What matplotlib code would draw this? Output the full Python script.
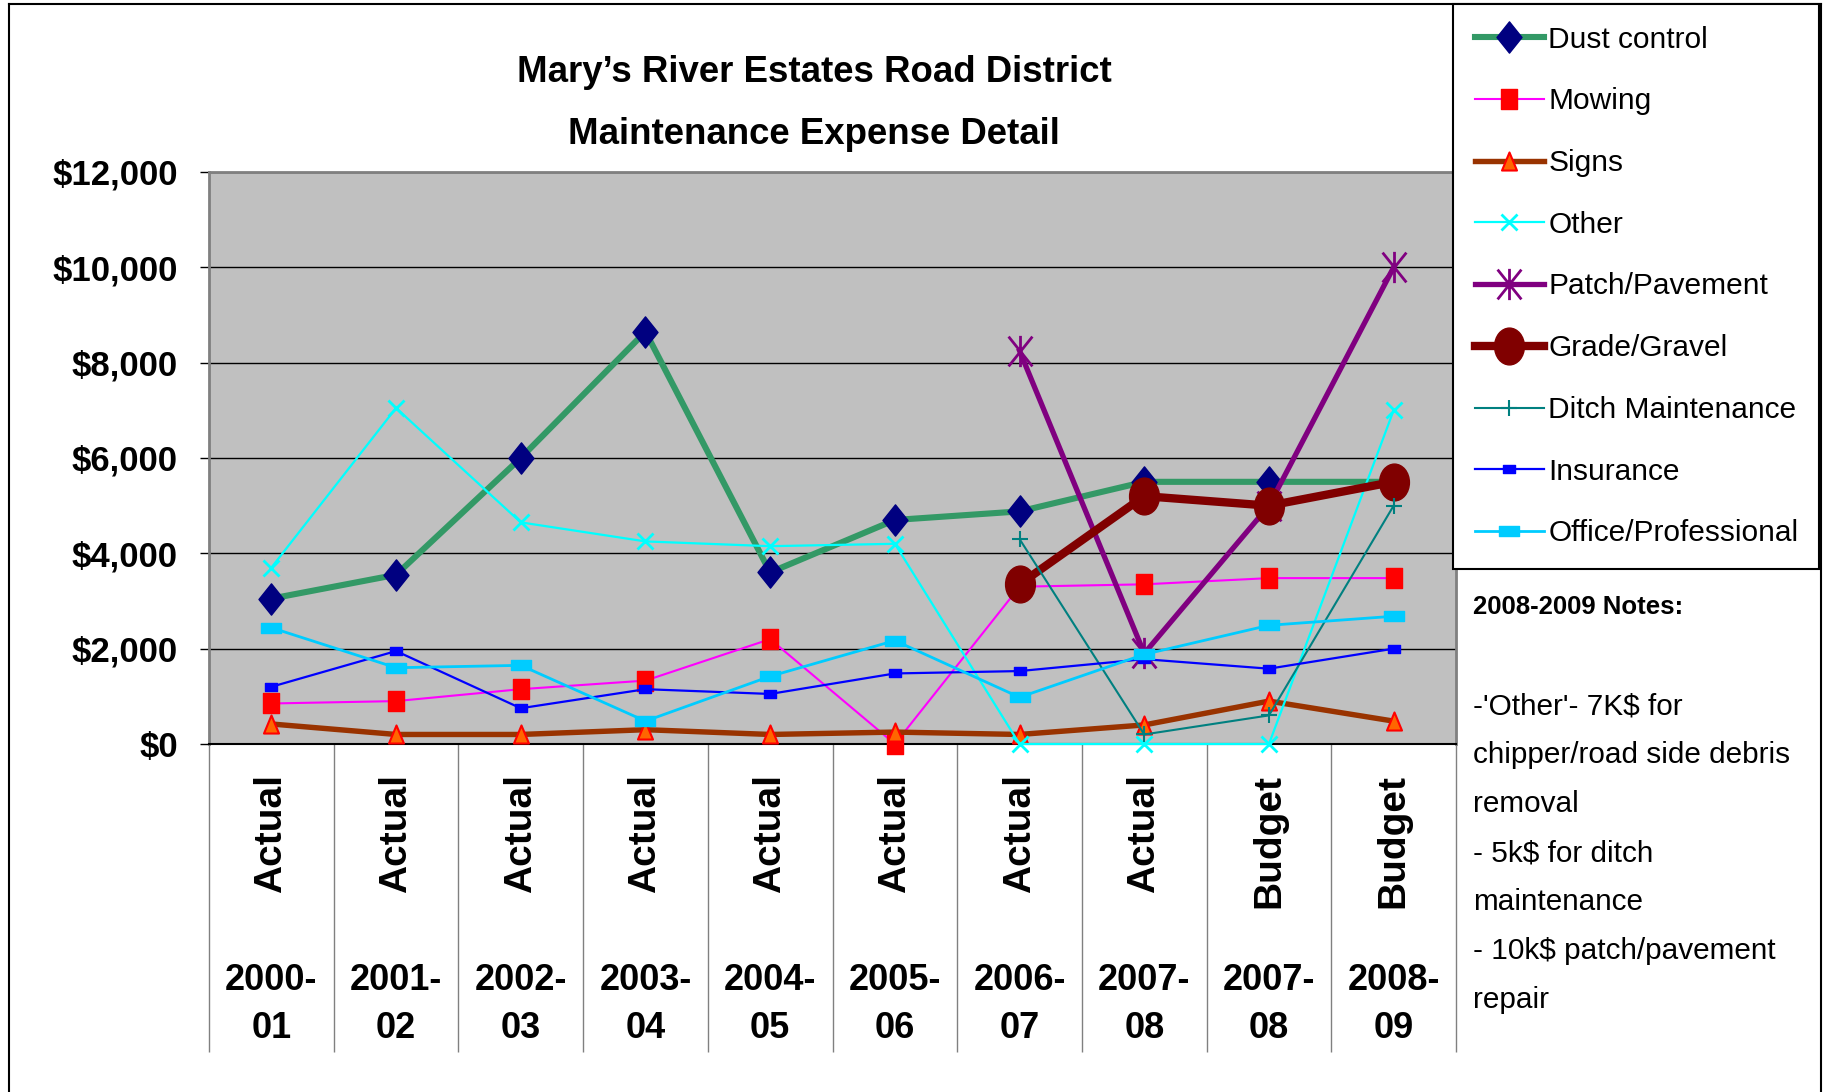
import numpy as np
import matplotlib
matplotlib.use("Agg")
import matplotlib.pyplot as plt
from matplotlib.path import Path
from matplotlib.transforms import Affine2D
from matplotlib.ticker import FuncFormatter

plt.rcParams['font.family'] = ['Liberation Sans', 'DejaVu Sans']

# --- data ---
kinds = ["Actual"] * 8 + ["Budget"] * 2
years = ["2000-\n01", "2001-\n02", "2002-\n03", "2003-\n04", "2004-\n05",
         "2005-\n06", "2006-\n07", "2007-\n08", "2007-\n08", "2008-\n09"]
nan = np.nan

dust_control = [3050, 3550, 6000, 8650, 3600, 4700, 4880, 5500, 5500, 5500]
mowing = [850, 900, 1150, 1330, 2200, 0, 3300, 3350, 3480, 3480]
signs = [420, 200, 200, 300, 200, 250, 200, 400, 900, 480]
other = [3700, 7050, 4650, 4250, 4150, 4200, 0, 0, 0, 7000]
patch_pavement = [nan, nan, nan, nan, nan, nan, 8250, 1900, 5000, 10000]
grade_gravel = [nan, nan, nan, nan, nan, nan, 3350, 5200, 5000, 5500]
ditch = [nan, nan, nan, nan, nan, nan, 4300, 200, 600, 5000]
insurance = [1200, 1950, 750, 1150, 1050, 1480, 1530, 1780, 1580, 2000]
office = [2440, 1600, 1650, 480, 1420, 2170, 980, 1880, 2490, 2680]

# --- marker shapes (Excel-like) ---
def rect(w, h):
    return Path([(-w, -h), (w, -h), (w, h), (-w, h), (-w, -h)], closed=True)

diamond = Path([(0, 1), (0.8, 0), (0, -1), (-0.8, 0), (0, 1)], closed=True)
triangle = Path([(0, 1), (0.83, -1), (-0.83, -1), (0, 1)], closed=True)
ellipse = Path.unit_circle().transformed(Affine2D().scale(0.81, 1))
star = Path([(-0.8, -1), (0.8, 1), (-0.8, 1), (0.8, -1), (0, -1.05), (0, 1.05)],
            [Path.MOVETO, Path.LINETO, Path.MOVETO, Path.LINETO, Path.MOVETO, Path.LINETO])

series = [
    ("Dust control", dust_control, dict(color="#339966", lw=4.4, marker=diamond, ms=22.5,
                                        mfc="#000080", mec="#000080", mew=1)),
    ("Mowing", mowing, dict(color="#FF00FF", lw=1.5, marker=rect(0.83, 1), ms=14.4,
                            mfc="#FF0000", mec="#FF0000", mew=1)),
    ("Signs", signs, dict(color="#993300", lw=3.9, marker=triangle, ms=13,
                          mfc="#FF6600", mec="#FF0000", mew=1.5)),
    ("Other", other, dict(color="#00FFFF", lw=1.6, marker="x", ms=11.5,
                          mec="#00FFFF", mew=2)),
    ("Patch/Pavement", patch_pavement, dict(color="#800080", lw=3.8, marker=star, ms=22.5,
                                            mfc="none", mec="#800080", mew=2)),
    ("Grade/Gravel", grade_gravel, dict(color="#800000", lw=6.0, marker=ellipse, ms=26.5,
                                        mfc="#800000", mec="#800000", mew=1)),
    ("Ditch Maintenance", ditch, dict(color="#008080", lw=1.5, marker="+", ms=11.5,
                                      mec="#008080", mew=1.5)),
    ("Insurance", insurance, dict(color="#0000FF", lw=1.6, marker=rect(1, 0.75), ms=8.2,
                                  mfc="#0000FF", mec="#0000FF", mew=1)),
    ("Office/Professional", office, dict(color="#00CCFF", lw=2.0, marker=rect(1, 0.53), ms=13.7,
                                         mfc="#00CCFF", mec="#00CCFF", mew=1)),
]

W, H = 1823, 1092
fig = plt.figure(figsize=(W / 100, H / 100), dpi=100)
ax = fig.add_axes([209 / W, 348 / H, (1456 - 209) / W, (744 - 172) / H])
ax.set_facecolor("#C0C0C0")

x = np.arange(len(years))
for name, vals, st in series:
    ax.plot(x, vals, label=name, clip_on=False, zorder=3, **st)

ax.set_xlim(-0.5, len(years) - 0.5)
ax.set_ylim(0, 12000)
ax.set_yticks(np.arange(0, 12001, 2000))
ax.yaxis.set_major_formatter(FuncFormatter(lambda v, p: "${:,.0f}".format(v)))
ax.grid(axis="y", color="black", lw=1)
ax.set_axisbelow(True)
ax.tick_params(axis="y", direction="out", length=6.5, width=1, pad=16)
for lab in ax.get_yticklabels():
    lab.set_fontsize(25)
    lab.set_fontweight("bold")

# category axis: separators + two-level labels
ax.set_xticks(x)
ax.tick_params(axis="x", which="major", length=0, labelbottom=False)
ax.set_xticks(np.arange(-0.5, len(years)), minor=True)
ax.tick_params(axis="x", which="minor", length=222, width=1, color="#808080", direction="out")

for sp in ["top", "left", "right"]:
    ax.spines[sp].set_color("#808080")
    ax.spines[sp].set_linewidth(2)
ax.spines["bottom"].set_color("black")
ax.spines["bottom"].set_linewidth(1.5)

tr = ax.get_xaxis_transform()
for i in range(len(years)):
    ax.text(x[i], -0.052, kinds[i], transform=tr, rotation=90, ha="center", va="top",
            fontsize=28, fontweight="bold")
    ax.text(x[i], -0.455, years[i], transform=tr, ha="center", va="center",
            fontsize=26, fontweight="bold", linespacing=1.49)

# title
fig.text(814 / W, 1 - 73 / H, "Mary\u2019s River Estates Road District",
         ha="center", va="center", fontsize=26.4, fontweight="bold")
fig.text(814 / W, 1 - 134 / H, "Maintenance Expense Detail",
         ha="center", va="center", fontsize=26.4, fontweight="bold")

# legend
leg = fig.legend(loc="upper left", bbox_to_anchor=(1453 / W, 1 - 572 / H, 366 / W, 568 / H),
                 mode="expand", fontsize=21.5, frameon=True, fancybox=False,
                 edgecolor="black", framealpha=1, borderpad=0.72, labelspacing=1.13,
                 handlelength=2.34, handletextpad=0.13, borderaxespad=0)
leg.get_frame().set_linewidth(1.5)

# notes
fig.text(1473 / W, 1 - 607 / H, "2008-2009 Notes:", ha="left", va="center",
         fontsize=18.5, fontweight="bold")
notes = ("-'Other'- 7K$ for\nchipper/road side debris\nremoval\n- 5k$ for ditch\n"
         "maintenance\n- 10k$ patch/pavement\nrepair")
fig.text(1473 / W, 1 - 853 / H, notes, ha="left", va="center", fontsize=21.4, linespacing=1.95)

# outer chart border
for xs, ys in [([9 / W, 9 / W], [-0.01, 1 - 4 / H]),
               ([9 / W, 1821 / W], [1 - 4 / H, 1 - 4 / H]),
               ([1821 / W, 1821 / W], [1 - 4 / H, -0.01])]:
    fig.add_artist(plt.Line2D(xs, ys, color="black", lw=1.5))

fig.savefig("out.png", dpi=100)
